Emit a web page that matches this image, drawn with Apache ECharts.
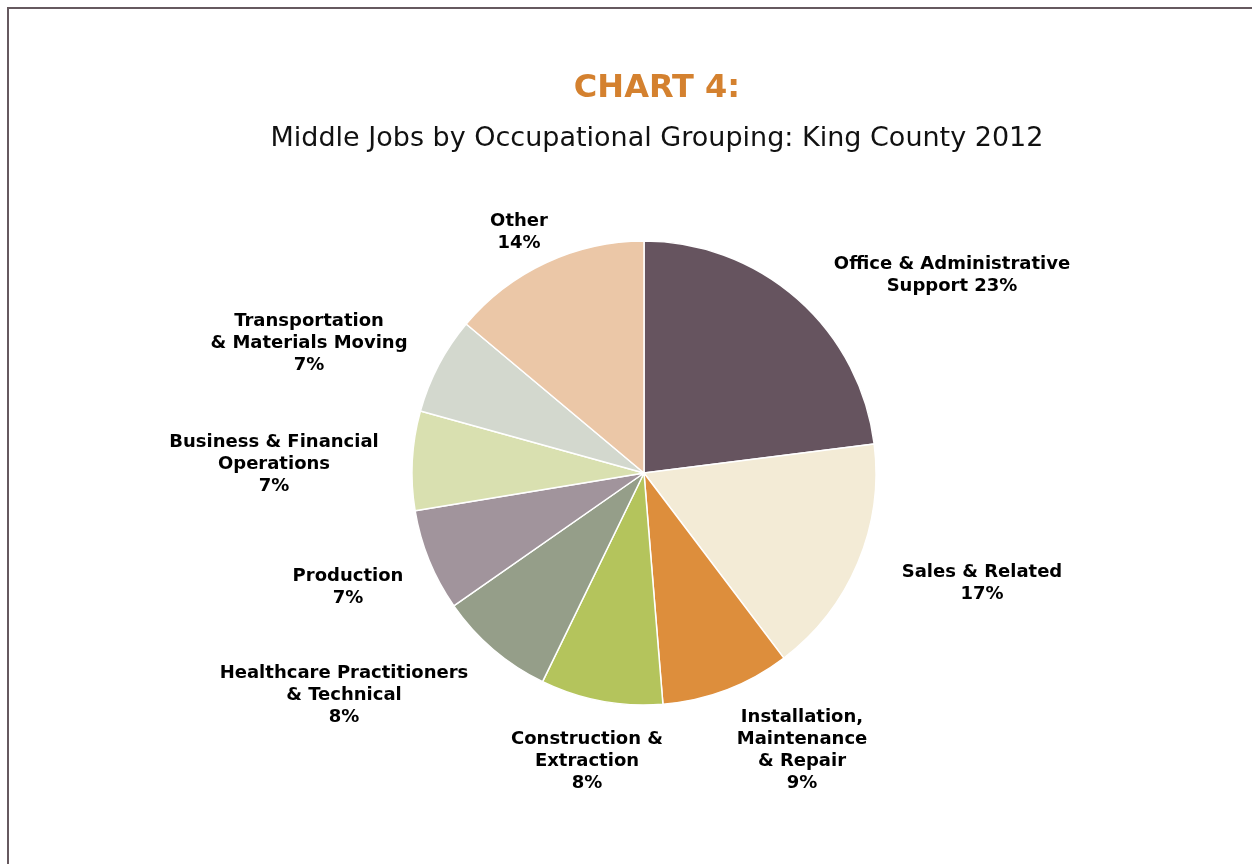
<!DOCTYPE html>
<html>
<head>
<meta charset="utf-8">
<script src="https://cdn.jsdelivr.net/npm/echarts@6/dist/echarts.min.js"></script>
<style>
  html, body { margin: 0; padding: 0; background: #fff; }
  #frame { position: absolute; left: 7px; top: 7px; width: 1260px; height: 870px;
           border-left: 2px solid #66595f; border-top: 2px solid #66595f; }
  #chart_block { position: absolute; left: 0; top: 0; width: 1252px; height: 864px; }
</style>
</head>
<body>
<div id="frame"></div>
<div id="chart_block"></div>
<script>
// slices clockwise from 12 o'clock, shares
var categories = [
  'Office & Administrative\nSupport',
  'Sales & Related',
  'Installation,\nMaintenance\n& Repair',
  'Construction &\nExtraction',
  'Healthcare Practitioners\n& Technical',
  'Production',
  'Business & Financial\nOperations',
  'Transportation\n& Materials Moving',
  'Other'
];
var shares = [23.0, 16.7, 9.0, 8.5, 8.1, 7.1, 6.9, 6.8, 13.9];
// percentages as printed on the chart
var printed = ['23%', '17%', '9%', '8%', '8%', '7%', '7%', '7%', '14%'];
var colors = ['#66545f', '#f3ebd6', '#dd8e3c', '#b4c45c', '#959e89',
              '#a1949c', '#d9e0b0', '#d3d8ce', '#ebc7a7'];

var cx = 644, cy = 473;
// label centre offsets from the pie centre
var labelOffsets = [
  [308, -198], [338, 110], [158, 277], [-57, 288], [-300, 222],
  [-296, 114], [-370, -9], [-335, -130], [-125, -241]
];

var chartDom = document.getElementById('chart_block');
var myChart = echarts.init(chartDom);

var pieData = [];
for (var i = 0; i < categories.length; i++) {
  pieData.push({
    name: categories[i],
    value: shares[i],
    itemStyle: { color: colors[i] },
    label: {
      formatter: (i == 0 ? categories[i] + ' ' + printed[i] : categories[i] + '\n' + printed[i])
    }
  });
}

var option = {
  animation: false,
  title: [
    {
      text: 'CHART 4:',
      left: 652,
      textAlign: 'center',
      top: 68,
      textStyle: { fontFamily: 'DejaVu Sans', fontWeight: 'bold', fontSize: 32, color: '#d4812f' }
    },
    {
      text: 'Middle Jobs by Occupational Grouping: King County 2012',
      left: 652,
      textAlign: 'center',
      top: 120,
      textStyle: { fontFamily: 'DejaVu Sans', fontWeight: 'normal', fontSize: 27, color: '#111' }
    }
  ],
  series: [
    {
      type: 'pie',
      center: [cx, cy],
      radius: 232,
      startAngle: 90,
      clockwise: true,
      avoidLabelOverlap: false,
      itemStyle: { borderColor: '#fff', borderWidth: 1.5 },
      label: {
        show: true,
        position: 'outside',
        fontFamily: 'DejaVu Sans',
        fontWeight: 'bold',
        fontSize: 18,
        lineHeight: 22,
        color: '#000',
        align: 'center'
      },
      labelLine: { show: false },
      labelLayout: function (params) {
        var o = labelOffsets[params.dataIndex];
        return {
          x: cx + o[0],
          y: cy + o[1],
          align: 'center',
          verticalAlign: 'middle'
        };
      },
      emphasis: { disabled: true },
      data: pieData
    }
  ]
};

myChart.setOption(option);
</script>
</body>
</html>
